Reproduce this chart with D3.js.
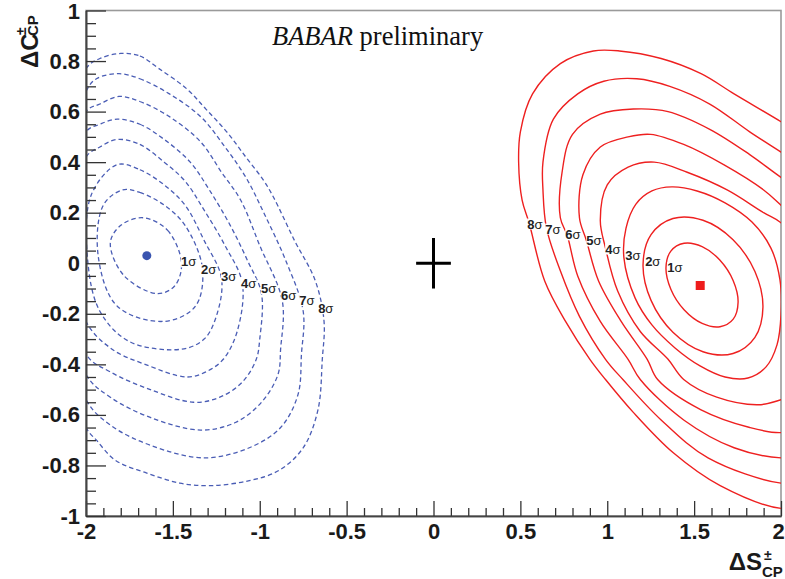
<!DOCTYPE html>
<html><head><meta charset="utf-8">
<script src="https://cdn.jsdelivr.net/npm/d3@7"></script>
<style>body{margin:0;background:#fff}</style>
</head><body>
<svg id="c" width="785" height="579"></svg>
<script>
// ---------- data ----------
const xTickValues = [-2, -1.5, -1, -0.5, 0, 0.5, 1, 1.5, 2];
const xTickLabels = ["-2", "-1.5", "-1", "-0.5", "0", "0.5", "1", "1.5", "2"];
const yTickValues = [-1, -0.8, -0.6, -0.4, -0.2, 0, 0.2, 0.4, 0.6, 0.8, 1];
const yTickLabels = ["-1", "-0.8", "-0.6", "-0.4", "-0.2", "0", "0.2", "0.4", "0.6", "0.8", "1"];
const sigmaNames = ["1", "2", "3", "4", "5", "6", "7", "8"];

const blueBest = [-1.65, 0.03];
const redBest = [1.535, -0.088];
const smPoint = [0, 0];
const smError = [0.1, 0.1];

// blue (dashed) contours, 1σ..8σ
const blue1 = [[-1.67,0.18],[-1.53,0.13],[-1.45,0.00],[-1.49,-0.09],[-1.59,-0.12],[-1.78,-0.05],[-1.86,0.08],[-1.80,0.15]];
const blue2 = [[-1.79,0.29],[-1.69,0.28],[-1.55,0.23],[-1.43,0.15],[-1.33,-0.02],[-1.37,-0.17],[-1.55,-0.23],[-1.82,-0.17],[-1.93,0.03],[-1.90,0.23]];
const blue3 = [[-1.82,0.39],[-1.69,0.37],[-1.55,0.31],[-1.43,0.23],[-1.32,0.09],[-1.22,-0.06],[-1.25,-0.21],[-1.32,-0.30],[-1.45,-0.34],[-1.75,-0.31],[-1.92,-0.19],[-1.99,0.01],[-1.97,0.27]];
const blue4 = [[-1.82,0.49],[-1.69,0.47],[-1.55,0.40],[-1.43,0.325],[-1.32,0.21],[-1.20,0.07],[-1.10,-0.08],[-1.13,-0.27],[-1.21,-0.38],[-1.31,-0.43],[-1.42,-0.45],[-1.66,-0.40],[-1.85,-0.34],[-2.00,-0.23],[-2.09,0.09],[-2.00,0.42],[-1.92,0.46]];
const blue5 = [[-1.82,0.57],[-1.69,0.55],[-1.55,0.49],[-1.40,0.40],[-1.29,0.29],[-1.17,0.15],[-1.07,0.01],[-0.99,-0.12],[-1.00,-0.30],[-1.02,-0.38],[-1.10,-0.47],[-1.23,-0.53],[-1.38,-0.55],[-1.63,-0.50],[-1.86,-0.43],[-2.00,-0.36],[-2.15,0.09],[-2.00,0.52],[-1.92,0.55]];
const blue6 = [[-1.81,0.66],[-1.69,0.64],[-1.52,0.58],[-1.34,0.48],[-1.22,0.36],[-1.11,0.25],[-1.00,0.07],[-0.87,-0.15],[-0.88,-0.34],[-0.895,-0.44],[-0.99,-0.55],[-1.14,-0.63],[-1.34,-0.66],[-1.63,-0.61],[-1.86,-0.53],[-2.00,-0.44],[-2.21,0.09],[-2.00,0.60],[-1.92,0.63]];
const blue7 = [[-1.81,0.75],[-1.69,0.73],[-1.52,0.67],[-1.34,0.58],[-1.20,0.46],[-1.08,0.34],[-0.97,0.19],[-0.85,0.01],[-0.75,-0.19],[-0.76,-0.36],[-0.78,-0.52],[-0.88,-0.65],[-1.06,-0.73],[-1.32,-0.77],[-1.63,-0.72],[-1.86,-0.64],[-2.00,-0.54],[-2.27,0.09],[-2.00,0.68],[-1.94,0.73]];
const blue8 = [[-1.80,0.83],[-1.69,0.82],[-1.58,0.77],[-1.42,0.69],[-1.31,0.61],[-1.19,0.52],[-1.08,0.42],[-0.98,0.33],[-0.92,0.26],[-0.80,0.09],[-0.68,-0.07],[-0.63,-0.23],[-0.64,-0.38],[-0.665,-0.58],[-0.75,-0.73],[-0.89,-0.82],[-1.06,-0.86],[-1.28,-0.88],[-1.46,-0.87],[-1.65,-0.83],[-1.83,-0.78],[-1.94,-0.70],[-2.00,-0.65],[-2.32,0.05],[-2.00,0.77],[-1.92,0.81]];

// red (solid) contours, 1σ..8σ
const red1 = [[1.753,-0.154],[1.725,-0.221],[1.649,-0.251],[1.546,-0.238],[1.442,-0.184],[1.366,-0.103],[1.338,-0.018],[1.366,0.048],[1.442,0.079],[1.546,0.066],[1.649,0.012],[1.725,-0.069]];
const red2 = [[1.896,-0.174],[1.850,-0.293],[1.724,-0.357],[1.551,-0.350],[1.378,-0.273],[1.252,-0.147],[1.206,-0.006],[1.252,0.113],[1.378,0.177],[1.551,0.170],[1.724,0.093],[1.850,-0.033]];
const red3 = [[1.096,0.021],[1.108,0.139],[1.165,0.234],[1.257,0.286],[1.372,0.302],[1.517,0.286],[1.678,0.239],[1.833,0.163],[1.942,0.060],[1.994,-0.066],[2.000,-0.204],[1.977,-0.323],[1.914,-0.410],[1.810,-0.454],[1.678,-0.450],[1.534,-0.406],[1.390,-0.335],[1.257,-0.244],[1.160,-0.137]];
const red4 = [[0.99,0.06],[0.96,0.17],[1.00,0.31],[1.12,0.38],[1.27,0.40],[1.46,0.36],[1.69,0.29],[1.90,0.20],[2.00,0.16],[2.14,0.05],[2.17,-0.27],[2.08,-0.52],[2.00,-0.54],[1.87,-0.56],[1.63,-0.53],[1.44,-0.46],[1.35,-0.38],[1.19,-0.27],[1.06,-0.11]];
const red5 = [[0.88,0.09],[0.84,0.18],[0.86,0.35],[0.96,0.46],[1.12,0.50],[1.25,0.51],[1.44,0.47],[1.67,0.39],[1.90,0.29],[2.00,0.23],[2.20,0.11],[2.26,-0.34],[2.17,-0.64],[2.00,-0.67],[1.82,-0.65],[1.54,-0.58],[1.29,-0.46],[1.23,-0.38],[1.08,-0.23],[0.95,-0.07]];
const red6 = [[0.77,0.11],[0.73,0.18],[0.74,0.36],[0.80,0.51],[0.96,0.59],[1.15,0.61],[1.35,0.60],[1.59,0.53],[1.82,0.43],[2.00,0.34],[2.20,0.25],[2.28,-0.46],[2.14,-0.76],[2.00,-0.77],[1.73,-0.73],[1.44,-0.62],[1.19,-0.46],[1.12,-0.38],[0.96,-0.23],[0.83,-0.05]];
const red7 = [[0.65,0.14],[0.63,0.29],[0.63,0.40],[0.69,0.57],[0.83,0.67],[0.98,0.72],[1.17,0.73],[1.36,0.70],[1.59,0.63],[1.82,0.52],[2.00,0.44],[2.23,0.34],[2.31,-0.54],[2.17,-0.86],[2.00,-0.87],[1.58,-0.77],[1.31,-0.62],[1.09,-0.46],[0.99,-0.38],[0.84,-0.21],[0.73,-0.03]];
const red8 = [[0.55,0.16],[0.51,0.25],[0.49,0.40],[0.50,0.52],[0.57,0.67],[0.73,0.79],[0.92,0.84],[1.07,0.84],[1.31,0.81],[1.54,0.75],[1.73,0.67],[2.00,0.56],[2.28,0.44],[2.37,-0.62],[2.23,-0.95],[2.00,-0.97],[1.65,-0.88],[1.38,-0.75],[1.15,-0.59],[0.99,-0.46],[0.90,-0.38],[0.76,-0.23],[0.64,-0.07]];

// contour-label anchor positions (left edge, vertical centre)
const blueLabelPos = [[-1.453,0.006],[-1.338,-0.025],[-1.223,-0.053],[-1.108,-0.080],[-0.993,-0.100],[-0.877,-0.128],[-0.773,-0.147],[-0.664,-0.179]];
const redLabelPos = [[1.345,-0.017],[1.218,0.006],[1.103,0.030],[0.988,0.057],[0.879,0.089],[0.758,0.113],[0.643,0.136],[0.539,0.156]];

const blueContours = [blue1, blue2, blue3, blue4, blue5, blue6, blue7, blue8];
const redContours = [red1, red2, red3, red4, red5, red6, red7, red8];

// ---------- drawing ----------
const svg = d3.select("#c");
const plot = {l: 86, r: 781, t: 10.5, b: 516};
const x = d3.scaleLinear().domain([-2, 2]).range([plot.l, plot.r]);
const y = d3.scaleLinear().domain([-1, 1]).range([plot.b, plot.t]);
const SANS = "'Liberation Sans', Arial, Helvetica, sans-serif";
const SERIF = "'Liberation Serif', 'Times New Roman', serif";

svg.append("rect").attr("width", 785).attr("height", 579).attr("fill", "#fff");

svg.append("defs").append("clipPath").attr("id", "clip")
  .append("rect").attr("x", plot.l).attr("y", plot.t)
  .attr("width", plot.r - plot.l).attr("height", plot.b - plot.t);

// frame
svg.append("rect").attr("x", plot.l).attr("y", plot.t)
  .attr("width", plot.r - plot.l).attr("height", plot.b - plot.t)
  .attr("fill", "none").attr("stroke", "#9a9a9a").attr("stroke-width", 1.6);

const line = d3.line().x(d => x(d[0])).y(d => y(d[1])).curve(d3.curveCatmullRomClosed.alpha(0.5));
const gC = svg.append("g").attr("clip-path", "url(#clip)");

gC.selectAll("path.blue").data(blueContours).join("path")
  .attr("class", "blue").attr("d", line).attr("fill", "none")
  .attr("stroke", "#4a5db5").attr("stroke-width", 1.3).attr("stroke-dasharray", "4.5,3");

gC.selectAll("path.red").data(redContours).join("path")
  .attr("class", "red").attr("d", line).attr("fill", "none")
  .attr("stroke", "#ee2020").attr("stroke-width", 1.4);

// contour labels
function drawLabels(pos) {
  pos.forEach((p, i) => {
    const g = svg.append("g");
    const t = g.append("text").attr("x", x(p[0])).attr("y", y(p[1])).attr("dy", "0.36em")
      .style("font-family", SANS).style("font-size", "13px").attr("fill", "#222");
    t.append("tspan").attr("font-weight", "bold").text(sigmaNames[i]);
    t.append("tspan").text("σ");
    const bb = t.node().getBBox();
    g.insert("rect", "text").attr("x", bb.x).attr("y", bb.y + 2)
      .attr("width", bb.width).attr("height", bb.height - 4).attr("fill", "#fff");
  });
}
drawLabels(blueLabelPos);
drawLabels(redLabelPos);

// best-fit markers
svg.append("circle").attr("cx", x(blueBest[0])).attr("cy", y(blueBest[1])).attr("r", 4.5).attr("fill", "#3a55b0");
svg.append("rect").attr("x", x(redBest[0]) - 4.5).attr("y", y(redBest[1]) - 4.5)
  .attr("width", 9).attr("height", 9).attr("fill", "#ee1c1c");

// SM cross
svg.append("line").attr("x1", x(smPoint[0] - smError[0])).attr("x2", x(smPoint[0] + smError[0]))
  .attr("y1", y(smPoint[1])).attr("y2", y(smPoint[1])).attr("stroke", "#000").attr("stroke-width", 3);
svg.append("line").attr("x1", x(smPoint[0])).attr("x2", x(smPoint[0]))
  .attr("y1", y(smPoint[1] - smError[1])).attr("y2", y(smPoint[1] + smError[1])).attr("stroke", "#000").attr("stroke-width", 3);

// axes
const xMinor = d3.range(-20, 21).filter(i => i % 5 !== 0).map(i => i / 10);
const yMinor = d3.range(-20, 21).filter(i => i % 4 !== 0).map(i => i / 20);

const gxm = svg.append("g").attr("transform", `translate(0,${plot.b})`)
  .call(d3.axisBottom(x).tickValues(xMinor).tickSize(-8).tickSizeOuter(0).tickFormat(""));
const gx = svg.append("g").attr("transform", `translate(0,${plot.b})`)
  .call(d3.axisBottom(x).tickValues(xTickValues).tickSize(-15).tickSizeOuter(0).tickPadding(7)
    .tickFormat((d, i) => xTickLabels[i]));
const gym = svg.append("g").attr("transform", `translate(${plot.l},0)`)
  .call(d3.axisLeft(y).tickValues(yMinor).tickSize(-10).tickSizeOuter(0).tickFormat(""));
const gy = svg.append("g").attr("transform", `translate(${plot.l},0)`)
  .call(d3.axisLeft(y).tickValues(yTickValues).tickSize(-20).tickSizeOuter(0).tickPadding(6)
    .tickFormat((d, i) => yTickLabels[i]));

[gxm, gx, gym, gy].forEach(g => {
  g.select(".domain").attr("stroke", "#444").attr("stroke-width", 1.6);
  g.selectAll(".tick line").attr("stroke", "#333").attr("stroke-width", 1.3);
  g.selectAll("text").style("font-family", SANS).style("font-size", "22px")
    .style("font-weight", "bold").attr("fill", "#1a1a1a");
});
// keep the last x label inside the picture
gx.selectAll(".tick text").filter(d => d === 2).attr("dx", "-3");
gy.selectAll(".tick text").filter(d => d === 1).attr("dy", "0.38em");

// title
const title = svg.append("text").attr("x", 272).attr("y", 45)
  .style("font-family", SERIF).style("font-size", "26.5px").attr("fill", "#111");
title.append("tspan").style("font-style", "italic").text("BABAR");
title.append("tspan").text(" preliminary");

// x-axis title
const xt = svg.append("g").style("font-family", SANS).style("font-weight", "bold").attr("fill", "#1a1a1a");
xt.append("text").attr("x", 762).attr("y", 570).attr("text-anchor", "end").style("font-size", "24px").text("ΔS");
xt.append("text").attr("x", 764).attr("y", 560).style("font-size", "14px").text("±");
xt.append("text").attr("x", 762).attr("y", 577).style("font-size", "15px").text("CP");

// y-axis title
const yt = svg.append("g").attr("transform", "translate(38,68) rotate(-90)")
  .style("font-family", SANS).style("font-weight", "bold").attr("fill", "#1a1a1a");
yt.append("text").attr("x", 0).attr("y", 0).style("font-size", "24px").text("ΔC");
yt.append("text").attr("x", 33).attr("y", -12).style("font-size", "14px").text("±");
yt.append("text").attr("x", 32).attr("y", 0).style("font-size", "15px").text("CP");
</script>
</body></html>
